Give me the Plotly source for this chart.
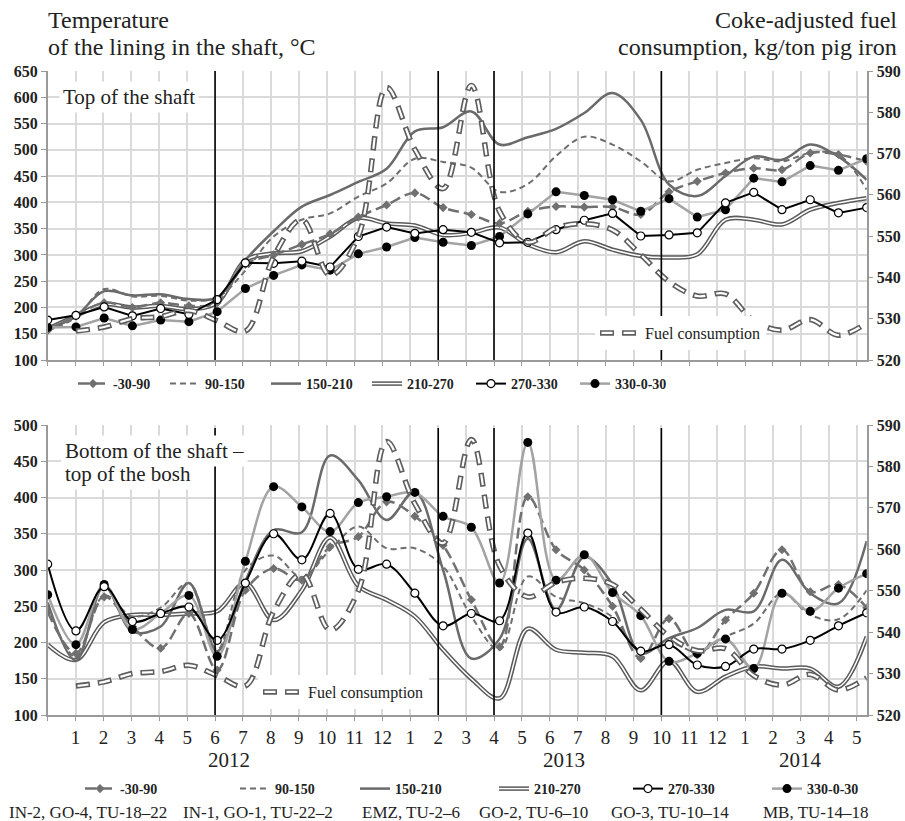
import plotly.graph_objects as go

# ---------------- data ----------------
month_labels = [str(m) for m in range(1, 13)] + [str(m) for m in range(1, 13)] + [str(m) for m in range(1, 6)]
years = ["2012", "2013", "2014"]
year_centers = [6.5, 18.5, 27.0]
event_months = [6, 14, 16, 22]

series_names = ["-30-90", "90-150", "150-210", "210-270", "270-330", "330-0-30"]
sub_labels = ["IN-2, GO-4, TU-18–22", "IN-1, GO-1, TU-22–2", "EMZ, TU-2–6",
              "GO-2, TU-6–10", "GO-3, TU-10–14", "MB, TU-14–18"]

# Top of the shaft, °C (30 monthly points, Jan 2012 .. Jun 2014)
top_m30_90 = [156, 184, 209, 200, 209, 203, 209, 282, 300, 320, 340, 372, 395, 418, 390,
              377, 360, 383, 392, 391, 391, 377, 420, 440, 456, 465, 462, 494, 491, 478]
top_90_150 = [156, 181, 235, 221, 222, 213, 219, 270, 335, 367, 379, 411, 436, 483, 477,
              466, 420, 435, 488, 525, 510, 478, 440, 462, 475, 484, 478, 494, 491, 424]
top_150_210 = [159, 184, 231, 223, 225, 216, 219, 290, 345, 392, 414, 439, 464, 535, 543,
               573, 510, 524, 540, 570, 608, 557, 434, 412, 450, 487, 481, 510, 487, 443]
top_210_270 = [159, 184, 206, 200, 203, 197, 209, 290, 303, 307, 335, 370, 360, 356, 338,
               342, 352, 320, 305, 326, 310, 298, 295, 301, 367, 367, 358, 386, 399, 408]
top_270_330 = [176, 185, 201, 184, 198, 187, 215, 285, 284, 288, 277, 335, 353, 341, 348,
               343, 323, 324, 348, 366, 379, 336, 338, 342, 399, 419, 386, 405, 380, 390]
top_330_30 = [162, 163, 180, 165, 176, 173, 192, 236, 261, 281, 271, 302, 315, 333, 324,
              318, 335, 378, 420, 413, 405, 383, 407, 372, 386, 446, 439, 470, 461, 483]

# Bottom of the shaft - top of the bosh, °C
bot_m30_90 = [242, 185, 263, 222, 192, 240, 162, 272, 302, 286, 332, 346, 394, 374, 334,
              259, 194, 401, 328, 300, 250, 178, 233, 183, 231, 268, 328, 270, 280, 248]
bot_90_150 = [250, 180, 265, 236, 248, 282, 190, 300, 320, 290, 328, 360, 330, 330, 305,
              236, 190, 291, 263, 254, 235, 187, 200, 187, 208, 226, 268, 238, 232, 272]
bot_150_210 = [255, 175, 278, 215, 222, 282, 188, 285, 355, 352, 458, 424, 369, 408, 300,
               178, 205, 343, 245, 318, 280, 185, 206, 220, 245, 243, 314, 268, 254, 340]
bot_210_270 = [197, 176, 228, 238, 238, 240, 243, 282, 231, 272, 345, 278, 259, 236, 190,
               150, 123, 219, 190, 186, 181, 134, 175, 132, 153, 167, 164, 164, 139, 208]
bot_270_330 = [308, 216, 277, 229, 240, 249, 203, 282, 350, 314, 378, 301, 308, 268, 223,
               240, 230, 351, 242, 249, 229, 188, 197, 169, 167, 191, 191, 203, 223, 241]
bot_330_30 = [266, 197, 280, 218, 240, 265, 181, 312, 415, 387, 353, 393, 401, 407, 374,
              359, 282, 476, 286, 321, 269, 237, 174, 185, 205, 164, 268, 243, 275, 295]

# Coke-adjusted fuel consumption, kg/ton pig iron (right axis)
fuel = [None, 527, 528, 530, 530.5, 532, 529.5, 527, 545, 554, 540.5, 550, 586, 571, 561.5,
        586.5, 556, 548.5, 552, 553, 551.5, 545.5, 539, 535.5, 536, 529.5, 527.2, 529.8, 526, 529]

# ---------------- layout geometry ----------------
W, H = 905, 821
XL, XR = 47.7, 866.7
TOP = (71, 360)
BOT = (425, 715)
X_END = 29.36
N = len(fuel)
xs = [i * X_END / (N - 1) for i in range(N)]

SERIF = "Liberation Serif, Times New Roman, serif"
GRID = "#dadada"
AX = "#9a9a9a"
TXT = "#222"

# legend text start positions (pixels) for each series
top_leg_x = [113, 205, 306, 407, 511, 615]
bot_leg_x = [120, 275, 395, 534, 668, 807]
TOP_LEG_Y, BOT_LEG_Y = 384, 789
fuel_leg = [(645, 333), (308, 692)]


def px(xp):
    return xp / W


def py(yp):
    return 1 - yp / H


fig = go.Figure()
legends = {}
leg_counter = [0]


def new_legend(text_x, text_y, size, bold, iw=30, bg="rgba(0,0,0,0)"):
    leg_counter[0] += 1
    k = "legend" if leg_counter[0] == 1 else "legend%d" % leg_counter[0]
    legends[k] = dict(x=px(text_x - iw - 10), y=py(text_y), xanchor="left", yanchor="middle",
                      xref="paper", yref="paper", itemwidth=iw,
                      font=dict(family=SERIF, size=size, color=TXT,
                                weight="bold" if bold else "normal"),
                      bgcolor=bg, borderwidth=0, tracegroupgap=0)
    return k


def add_panel(vals, xa, ya, ya_r, leg_x, leg_y, fuel_pos, marker_shape):
    m30, v90, v150, v210, v270, v330 = vals
    shp = "spline"
    lf = new_legend(fuel_pos[0], fuel_pos[1], 16, False, iw=40, bg="white")
    lf2 = new_legend(fuel_pos[0], fuel_pos[1], 16, False, iw=40)
    fig.add_trace(go.Scatter(x=xs, y=fuel, xaxis=xa, yaxis=ya_r, mode="lines",
                             line=dict(color="#5e5e5e", width=5.5, dash="14px,8px", shape="spline"),
                             name="Fuel consumption", legend=lf, hoverinfo="skip"))
    fig.add_trace(go.Scatter(x=xs, y=fuel, xaxis=xa, yaxis=ya_r, mode="lines",
                             line=dict(color="white", width=2.2, dash="0px,1.5px,11px,9.5px", shape="spline"),
                             name=" ", legend=lf2, hoverinfo="skip"))
    l = [new_legend(leg_x[i], leg_y, 14, True) for i in range(6)]
    l210b = new_legend(leg_x[3], leg_y, 14, True)
    fig.add_trace(go.Scatter(x=xs, y=v210, xaxis=xa, yaxis=ya, mode="lines",
                             line=dict(color="#5a5a5a", width=4.5, shape=shp),
                             name=series_names[3], legend=l[3]))
    fig.add_trace(go.Scatter(x=xs, y=v210, xaxis=xa, yaxis=ya, mode="lines",
                             line=dict(color="white", width=1.5, shape=shp),
                             name=" ", legend=l210b, hoverinfo="skip"))
    fig.add_trace(go.Scatter(x=xs, y=v150, xaxis=xa, yaxis=ya, mode="lines",
                             line=dict(color="#6a6a6a", width=2.5, shape=shp),
                             name=series_names[2], legend=l[2]))
    fig.add_trace(go.Scatter(x=xs, y=v90, xaxis=xa, yaxis=ya, mode="lines",
                             line=dict(color="#6e6e6e", width=2, dash="6px,4px", shape=shp),
                             name=series_names[1], legend=l[1]))
    fig.add_trace(go.Scatter(x=xs, y=m30, xaxis=xa, yaxis=ya, mode="lines+markers",
                             line=dict(color="#707070", width=2.5, dash="11px,5px", shape=shp),
                             marker=dict(symbol="diamond", size=7, color="#707070"),
                             name=series_names[0], legend=l[0]))
    fig.add_trace(go.Scatter(x=xs, y=v330, xaxis=xa, yaxis=ya, mode="lines+markers",
                             line=dict(color="#a3a3a3", width=2.5, shape=marker_shape),
                             marker=dict(symbol="circle", size=9, color="black"),
                             name=series_names[5], legend=l[5]))
    fig.add_trace(go.Scatter(x=xs, y=v270, xaxis=xa, yaxis=ya, mode="lines+markers",
                             line=dict(color="black", width=2, shape=marker_shape),
                             marker=dict(symbol="circle", size=8, color="white",
                                         line=dict(color="black", width=1.2)),
                             name=series_names[4], legend=l[4]))


add_panel([top_m30_90, top_90_150, top_150_210, top_210_270, top_270_330, top_330_30],
          "x", "y", "y2", top_leg_x, TOP_LEG_Y, fuel_leg[0], "linear")
add_panel([bot_m30_90, bot_90_150, bot_150_210, bot_210_270, bot_270_330, bot_330_30],
          "x2", "y3", "y4", bot_leg_x, BOT_LEG_Y, fuel_leg[1], "spline")

xcommon = dict(domain=[px(XL), px(XR)], range=[0, X_END], tickmode="array",
               tickvals=list(range(0, 30)), ticks="outside", ticklen=4, tickcolor=AX,
               showgrid=True, gridcolor=GRID, gridwidth=1.5, showline=True,
               linecolor=AX, linewidth=1.5, zeroline=False)
tickfont_b = dict(family=SERIF, size=16, color=TXT, weight="bold")
ycommon = dict(ticks="outside", ticklen=5, tickcolor=AX, showline=True, linecolor=AX,
               linewidth=1.5, zeroline=False, tickfont=tickfont_b)

fig.update_layout(
    width=W, height=H, margin=dict(l=0, r=0, t=0, b=0, autoexpand=False),
    plot_bgcolor="white", paper_bgcolor="white",
    font=dict(family=SERIF, color=TXT),
    showlegend=True,
    xaxis=dict(**xcommon, anchor="y", showticklabels=False),
    xaxis2=dict(**xcommon, anchor="y3", ticktext=[""] + month_labels,
                tickfont=dict(family=SERIF, size=19, color=TXT)),
    yaxis=dict(**ycommon, domain=[py(TOP[1]), py(TOP[0])], range=[100, 650], dtick=50,
               tick0=100, showgrid=True, gridcolor=GRID, gridwidth=1.5, anchor="x"),
    yaxis2=dict(**ycommon, overlaying="y", side="right", anchor="x", range=[520, 590],
                dtick=10, tick0=520, showgrid=False),
    yaxis3=dict(**ycommon, domain=[py(BOT[1]), py(BOT[0])], range=[100, 500], dtick=50,
                tick0=100, showgrid=True, gridcolor=GRID, gridwidth=1.5, anchor="x2"),
    yaxis4=dict(**ycommon, overlaying="y3", side="right", anchor="x2", range=[520, 590],
                dtick=10, tick0=520, showgrid=False),
)
fig.update_layout(**legends)

shapes = []
for m in event_months:
    shapes.append(dict(type="line", xref="x", yref="y domain", x0=m, x1=m, y0=0, y1=1,
                       line=dict(color="black", width=1.6), layer="above"))
    shapes.append(dict(type="line", xref="x2", yref="y3 domain", x0=m, x1=m, y0=0, y1=0.99,
                       line=dict(color="black", width=1.6), layer="above"))
fig.update_layout(shapes=shapes)


def text_ann(t, x, y, size, xanchor="left", bg=None, xref="paper"):
    d = dict(text=t, xref=xref, yref="paper", x=x, y=py(y), xanchor=xanchor,
             yanchor="middle", showarrow=False, font=dict(family=SERIF, size=size, color=TXT))
    if bg:
        d.update(bgcolor=bg, borderpad=3)
    return d


ann = [
    text_ann("Temperature", px(46), 20, 24),
    text_ann("of the lining in the shaft, °C", px(46), 47, 24),
    text_ann("Coke-adjusted fuel", px(899), 20, 24, xanchor="right"),
    text_ann("consumption, kg/ton pig iron", px(899), 47, 24, xanchor="right"),
    text_ann("Top of the shaft", px(59), 97, 21, bg="white"),
    text_ann("Bottom of the shaft –", px(61), 451, 21, bg="white"),
    text_ann("top of the bosh", px(61), 474, 21, bg="white"),
]
for yr, c in zip(years, year_centers):
    ann.append(text_ann(yr, c, 760, 21, xanchor="center", xref="x2"))
sub_centers = [88, 258, 411, 533, 670, 815]
for t, c in zip(sub_labels, sub_centers):
    ann.append(text_ann(t, px(c), 812, 17, xanchor="center"))
fig.update_layout(annotations=ann)

fig.write_html("out.html")
